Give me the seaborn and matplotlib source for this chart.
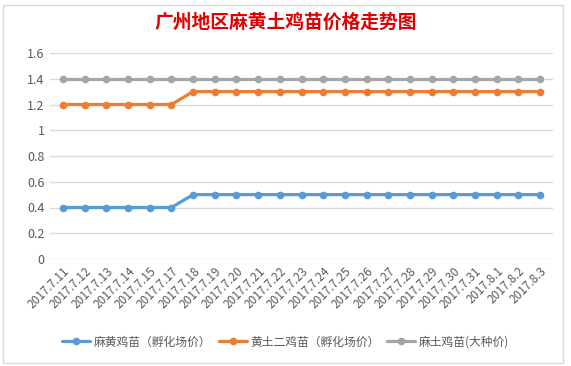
import matplotlib
matplotlib.use('Agg')
import matplotlib.pyplot as plt
from matplotlib.patches import Rectangle
from matplotlib.ticker import FuncFormatter
import seaborn as sns
import pandas as pd

dates = ['2017.7.11', '2017.7.12', '2017.7.13', '2017.7.14', '2017.7.15', '2017.7.17',
         '2017.7.18', '2017.7.19', '2017.7.20', '2017.7.21', '2017.7.22', '2017.7.23',
         '2017.7.24', '2017.7.25', '2017.7.26', '2017.7.27', '2017.7.28', '2017.7.29',
         '2017.7.30', '2017.7.31', '2017.8.1', '2017.8.2', '2017.8.3']
mahuang = [0.4] * 6 + [0.5] * 17
huangtu = [1.2] * 6 + [1.3] * 17
matu = [1.4] * 23
series_names = ['麻黄鸡苗（孵化场价）', '黄土二鸡苗（孵化场价）', '麻土鸡苗(大种价)']
colors = ['#5B9BD5', '#ED7D31', '#A5A5A5']

# long table for seaborn
rows = []
for name, vals in zip(series_names, [mahuang, huangtu, matu]):
    for i, v in enumerate(vals):
        rows.append({'idx': i, 'date': dates[i], 'price': v, 'series': name})
df = pd.DataFrame(rows)

sns.set_style('white')
plt.rcParams['font.family'] = ['Noto Sans CJK SC', 'DejaVu Sans']

fig = plt.figure(figsize=(5.71, 3.66), dpi=100)
ax = fig.add_axes([50 / 571, 1 - 259 / 366, 503 / 571, 206 / 366])

# chart frame like an Excel chart object
fig.patches.append(Rectangle((3 / 571, 3 / 366), 560 / 571, 358 / 366,
                             transform=fig.transFigure, fill=False,
                             edgecolor='#D9D9D9', linewidth=1))

sns.lineplot(data=df, x='idx', y='price', hue='series', hue_order=series_names,
             palette=colors, marker='o', markersize=5.5, markeredgewidth=0,
             linewidth=2.3, sort=False, ax=ax)

ax.set_xlim(-0.6, len(dates) - 0.4)
ax.set_ylim(0, 1.6)
ax.set_yticks([0, 0.2, 0.4, 0.6, 0.8, 1.0, 1.2, 1.4, 1.6])
ax.yaxis.set_major_formatter(FuncFormatter(lambda v, p: '%g' % v))
ax.set_xticks(range(len(dates)))
ax.set_xticklabels(dates, rotation=45, ha='right', rotation_mode='anchor')
ax.tick_params(axis='x', labelsize=8.5, colors='#595959', length=0, pad=4)
ax.tick_params(axis='y', labelsize=9, colors='#595959', length=0, pad=4)
ax.grid(axis='y', color='#D9D9D9', linewidth=1)
for s in ax.spines.values():
    s.set_visible(False)
ax.set_xlabel('')
ax.set_ylabel('')

fig.text(0.5, 1 - 22 / 366, '广州地区麻黄土鸡苗价格走势图', ha='center', va='center',
         fontsize=13.5, fontweight='bold', color='#E00000')

handles, labels = ax.get_legend_handles_labels()
ax.legend(handles, labels, loc='center', bbox_to_anchor=(0.5, 1 - 342 / 366),
          bbox_transform=fig.transFigure, ncol=3, frameon=False, fontsize=8.5,
          labelcolor='#595959', handlelength=2.4, columnspacing=0.6, handletextpad=0.3)

fig.savefig('out.png', dpi=100)
